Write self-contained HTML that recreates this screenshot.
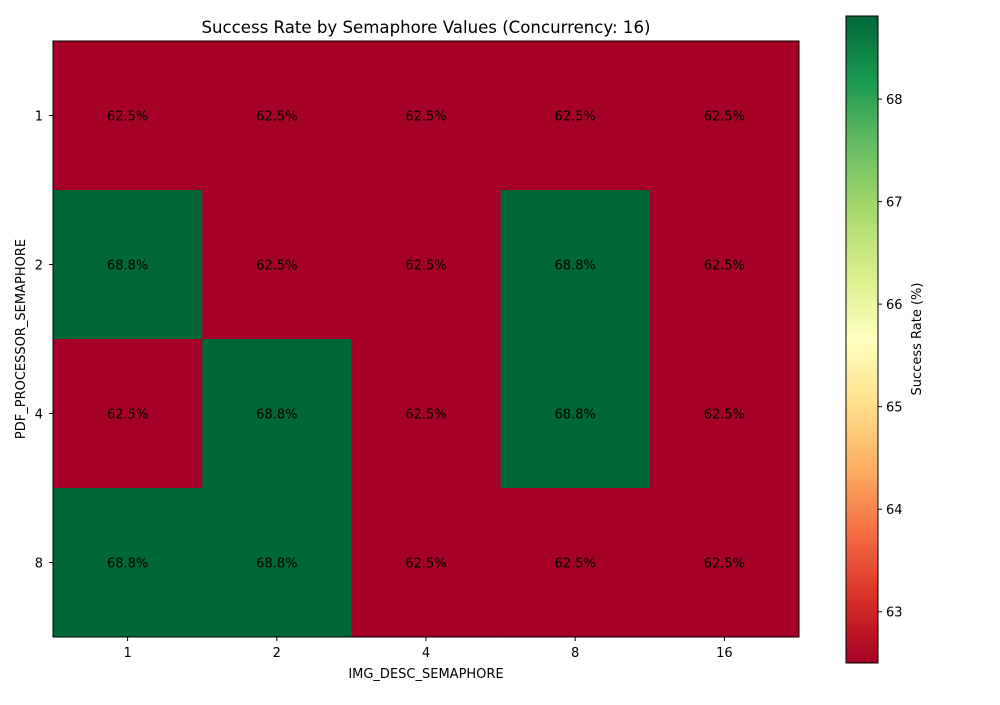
<!DOCTYPE html>
<html><head><meta charset="utf-8"><style>
body{margin:0;background:#fff;font-family:"Liberation Sans","DejaVu Sans",sans-serif}
text{font-family:"DejaVu Sans","Liberation Sans",sans-serif}
</style></head><body>
<svg id="chart" width="1000" height="700" xmlns="http://www.w3.org/2000/svg">
<defs><linearGradient id="cmap" x1="0" y1="1" x2="0" y2="0">
<stop offset="0" stop-color="#a50026"/><stop offset="0.1" stop-color="#d73027"/><stop offset="0.2" stop-color="#f46d43"/><stop offset="0.3" stop-color="#fdae61"/><stop offset="0.4" stop-color="#fee08b"/><stop offset="0.5" stop-color="#ffffbf"/><stop offset="0.6" stop-color="#d9ef8b"/><stop offset="0.7" stop-color="#a6d96a"/><stop offset="0.8" stop-color="#66bd63"/><stop offset="0.9" stop-color="#1a9850"/><stop offset="1" stop-color="#006837"/>
</linearGradient></defs>
<text x="426" y="33" text-anchor="middle" font-size="16.6">Success Rate by Semaphore Values (Concurrency: 16)</text>
<g id="cells"></g>
<rect x="53" y="41" width="746" height="596" fill="none" stroke="#000" stroke-width="1"/>
<g id="axes"></g>
<text x="426" y="678" text-anchor="middle" font-size="13">IMG_DESC_SEMAPHORE</text>
<text transform="translate(25,339) rotate(-90)" text-anchor="middle" font-size="13">PDF_PROCESSOR_SEMAPHORE</text>
<rect x="846" y="16" width="32" height="647" fill="url(#cmap)" stroke="#000" stroke-width="1"/>
<g id="cbar"></g>
<text transform="translate(921,339) rotate(-90)" text-anchor="middle" font-size="13">Success Rate (%)</text>
</svg>
<script>
const xCats=["1","2","4","8","16"];
const yCats=["1","2","4","8"];
const values=[
[62.5,62.5,62.5,62.5,62.5],
[68.8,62.5,62.5,68.8,62.5],
[62.5,68.8,62.5,68.8,62.5],
[68.8,68.8,62.5,62.5,62.5]];
const cbTicks=[63,64,65,66,67,68];
const vmin=62.5,vmax=68.81;
const NS="http://www.w3.org/2000/svg";
const X0=53,X1=799,Y0=41,Y1=637;
const cw=(X1-X0)/xCats.length,ch=(Y1-Y0)/yCats.length;
const xs=i=>X0+i*cw, ys=j=>Y0+j*ch;
const cy=v=>663-(v-vmin)/(vmax-vmin)*647;
function col(v){return v>=65.6?"#006837":"#a50026";}
function mk(tag,attrs,parent){const e=document.createElementNS(NS,tag);for(const k in attrs)e.setAttribute(k,attrs[k]);parent.appendChild(e);return e;}
const cells=document.getElementById("cells"),axes=document.getElementById("axes"),cbar=document.getElementById("cbar");
values.forEach((row,j)=>row.forEach((v,i)=>{
 const r=mk("rect",{x:xs(i),y:ys(j),width:cw+0.5,height:ch+0.5,fill:col(v)},cells);
 
 
 const t=mk("text",{x:xs(i)+cw/2,y:ys(j)+ch/2+5,"text-anchor":"middle","font-size":"13"},cells);
 t.textContent=v.toFixed(1)+"%";
 
 
}));
xCats.forEach((c,i)=>{
 const x=xs(i)+cw/2;
 mk("line",{x1:x,x2:x,y1:Y1,y2:Y1+4,stroke:"#000"},axes);
 const t=mk("text",{x:x,y:Y1+20,"text-anchor":"middle","font-size":"13"},axes);t.textContent=c;
 
 
});
yCats.forEach((c,j)=>{
 const y=ys(j)+ch/2;
 mk("line",{x1:X0-4,x2:X0,y1:y,y2:y,stroke:"#000"},axes);
 const t=mk("text",{x:X0-10,y:y+5,"text-anchor":"end","font-size":"13"},axes);t.textContent=c;
 
 
});
cbTicks.forEach(v=>{
 const y=cy(v);
 mk("line",{x1:878,x2:882,y1:y,y2:y,stroke:"#000"},cbar);
 const t=mk("text",{x:886,y:y+5,"font-size":"13"},cbar);t.textContent=v;
 
 
});
</script>
</body></html>
